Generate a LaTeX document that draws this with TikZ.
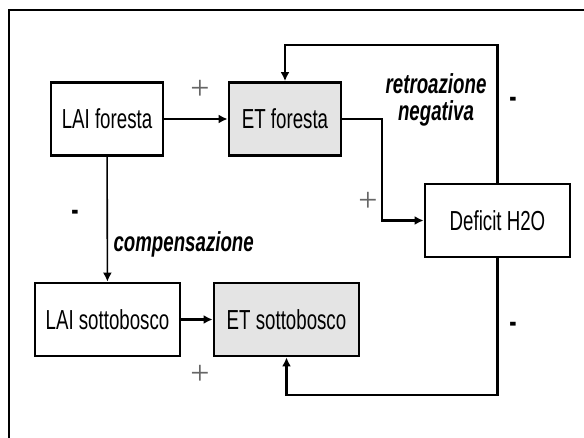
\documentclass[tikz,border=0pt]{standalone}
\usepackage{fontspec}
\setmainfont{Liberation Sans}[FakeStretch=0.68]
\newfontfamily\plusfont{Liberation Serif}
\usetikzlibrary{arrows.meta}
\definecolor{etgray}{HTML}{E4E4E4}
\tikzset{l/.style={font=\fontsize{27.5}{29}\selectfont}}
\tikzset{bx/.style={draw,line width=2.8pt,inner sep=0pt,minimum height=73pt,l}}
\tikzset{gx/.style={bx,fill=etgray}}
\tikzset{pl/.style={font=\plusfont\fontsize{34}{34}\selectfont,text=black!60}}
\tikzset{mn/.style={font=\fontsize{32}{32}\selectfont\bfseries}}
\tikzset{ib/.style={font=\fontsize{27.5}{27}\selectfont\bfseries\itshape,align=center}}

\begin{document}
\begin{tikzpicture}[x=1pt,y=-1pt,line join=miter,>={Latex[length=9pt,width=9pt]}]
  \useasboundingbox (0,0) rectangle (584,438);
  \draw[line width=2.8pt] (590,10) -- (9,10) -- (9,445);
  \begin{scope}[line width=2.5pt]
    \node[bx,minimum width=112pt] (LF) at (107,119) {LAI foresta};
    \node[gx,minimum width=112pt] (EF) at (285,119) {ET foresta}
      edge [<-] (LF);
    \node[bx,minimum width=145pt] (DH) at (497.5,220.5) {Deficit H2O};
    \node[bx,minimum width=145pt] (LS) at (107.5,319.5) {LAI sottobosco}
      edge [<-,line width=1.6pt] (LF);
    \node[gx,minimum width=145pt] (ES) at (286.5,319.5) {ET sottobosco}
      edge [<-] (LS);
    \coordinate (EFout) at (382,119);
    \coordinate (FBtop) at (285,45);
    \coordinate (FBbot) at (286.5,395);
    \draw[->] (EF.east) -- (EFout) |- (DH.west);
    \draw[->] (DH.north) |- (FBtop) -- (EF.north);
    \draw[->] (DH.south) |- (FBbot) -- (ES.south);
  \end{scope}
  \node[pl] (p1) at (200,90) {+};
  \node[pl] (p2) at (368,202) {+};
  \node[pl] (p3) at (200,375) {+};
  \node[mn] (m1) at (75,215) {-};
  \node[mn] (m2) at (513,102) {-};
  \node[mn] (m3) at (513,327) {-};
  \node[ib,anchor=west] (cmp) at (110,244) {compensazione};
  \node[ib] (rtr) at (436,100) {retroazione\\negativa};
\end{tikzpicture}
\end{document}
